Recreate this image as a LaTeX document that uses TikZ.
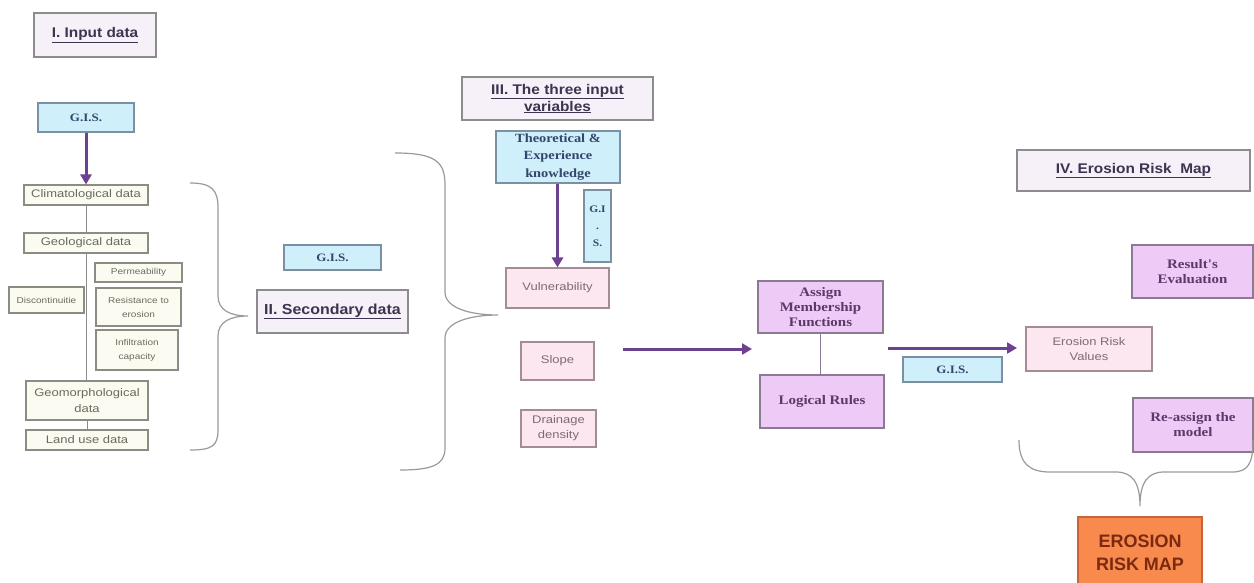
\documentclass[tikz,border=0pt]{standalone}
\usepackage{fontspec}
\setmainfont{Liberation Sans}
\newfontfamily\sansS[FakeStretch=1.18]{Liberation Sans}
\newfontfamily\headF[FakeStretch=1.1]{Liberation Sans}
\newfontfamily\serifB[FakeStretch=1.15]{Liberation Serif}
\usetikzlibrary{arrows.meta}
\definecolor{headfill}{HTML}{F6F0F8}
\definecolor{headdraw}{HTML}{8C8C8C}
\definecolor{headtext}{HTML}{3C3450}
\definecolor{bluefill}{HTML}{CFEFFB}
\definecolor{bluedraw}{HTML}{7C90A4}
\definecolor{bluetext}{HTML}{34466C}
\definecolor{creamfill}{HTML}{FBFBF2}
\definecolor{creamdraw}{HTML}{8C8C82}
\definecolor{creamtext}{HTML}{686C5E}
\definecolor{pinkfill}{HTML}{FCE6EF}
\definecolor{pinkdraw}{HTML}{A48C96}
\definecolor{pinktext}{HTML}{806878}
\definecolor{violetfill}{HTML}{EDCBF6}
\definecolor{violetdraw}{HTML}{8C7A94}
\definecolor{violettext}{HTML}{5A3A6A}
\definecolor{orangefill}{HTML}{F98A4E}
\definecolor{orangedraw}{HTML}{C8643A}
\definecolor{orangetext}{HTML}{7A2A10}
\definecolor{arrowc}{HTML}{6B4190}
\definecolor{linkc}{HTML}{8C8C8C}
\definecolor{bracec}{HTML}{9A9A9A}
\begin{document}
\begin{tikzpicture}[x=1pt,y=-1pt,
  base/.style={line width=1.1pt, align=center, inner sep=1pt},
  head/.style={base, draw=headdraw, fill=headfill, text=headtext,
    font=\headF\fontsize{14}{17}\selectfont\bfseries},
  bluebox/.style={base, draw=bluedraw, fill=bluefill, text=bluetext,
    font=\serifB\fontsize{11.3}{14}\selectfont\bfseries},
  creambox/.style={base, draw=creamdraw, fill=creamfill, text=creamtext,
    font=\sansS\fontsize{11}{16}\selectfont},
  smallbox/.style={base, draw=creamdraw, fill=creamfill, text=creamtext,
    font=\sansS\fontsize{8.5}{14}\selectfont},
  pinkbox/.style={base, draw=pinkdraw, fill=pinkfill, text=pinktext,
    font=\sansS\fontsize{11}{15}\selectfont},
  violetbox/.style={base, draw=violetdraw, fill=violetfill, text=violettext,
    font=\serifB\fontsize{13}{15}\selectfont\bfseries},
  orangebox/.style={base, draw=orangedraw, fill=orangefill, text=orangetext,
    font=\fontsize{18}{23}\selectfont\bfseries},
  arrow/.style={draw=arrowc, line width=3pt, -{Triangle[length=10pt,width=11pt]}},
  link/.style={draw=linkc, line width=1pt},
  brace/.style={draw=bracec, line width=1.2pt}
]
\useasboundingbox[fill=white] (0,0) rectangle (1254,582);

% I. Input data
\node[head, minimum width=122, minimum height=44] (h1) at (95,35) {\underline{I. Input data}};
\node[bluebox, minimum width=96, minimum height=29] (gis1) at (86,117.5) {G.I.S.};
\node[creambox, minimum width=124, minimum height=20] (clim) at (86,195) {Climatological data};
\node[creambox, minimum width=124, minimum height=20] (geol) at (86,243) {Geological data};
\node[smallbox, minimum width=87, minimum height=19] (perm) at (138.5,272.5) {Permeability};
\node[smallbox, minimum width=85, minimum height=38] (resist) at (138.5,307) {Resistance to\\erosion};
\node[smallbox, minimum width=75, minimum height=26] (disc) at (46.5,300) {Discontinuitie};
\node[smallbox, minimum width=82, minimum height=40] (infil) at (137,350) {Infiltration\\capacity};
\node[creambox, minimum width=122, minimum height=39] (geom) at (87,400.5) {Geomorphological\\data};
\node[creambox, minimum width=122, minimum height=20] (land) at (87,440) {Land use data};

\draw[arrow] (gis1.south) -- (clim.north);
\draw[link] (clim.south) -- (geol.north);
\draw[link] (geol.south) -- (geol.south |- geom.north);
\draw[link] (geom.south) -- (land.north);

% brace 1
\draw[brace] (190,183) .. controls (212,183) and (218,190) .. (218,208) -- (218,296)
  .. controls (218,310) and (230,316) .. (248,316)
  .. controls (230,316) and (218,322) .. (218,336) -- (218,430)
  .. controls (218,446) and (212,450) .. (190,450);

% II. Secondary data
\node[bluebox, minimum width=97, minimum height=25] (gis2) at (332.5,257.5) {G.I.S.};
\node[head, minimum width=151, minimum height=43, font=\headF\fontsize{14.5}{17}\selectfont\bfseries] (h2) at (332.5,311.5) {\underline{II. Secondary data}};

% brace 2
\draw[brace] (395,153) .. controls (436,153) and (445,162) .. (445,185) -- (445,292)
  .. controls (445,308) and (470,315) .. (498,315)
  .. controls (470,315) and (445,322) .. (445,338) -- (445,448)
  .. controls (445,465) and (432,470) .. (400,470);

% III. The three input variables
\node[head, minimum width=191, minimum height=43] (h3) at (557.5,98.5) {\underline{III. The three input}\\\underline{variables}};
\node[bluebox, minimum width=124, minimum height=52, inner sep=0pt, font=\serifB\fontsize{12.5}{17.5}\selectfont\bfseries] (theo) at (558,157) {Theoretical \&\\Experience\\knowledge};
\node[bluebox, minimum width=27, minimum height=72, font=\serifB\fontsize{10}{17}\selectfont\bfseries] (gis3) at (597.5,226) {G.I\\.\\S.};
\node[pinkbox, minimum width=103, minimum height=40] (vuln) at (557.5,288) {Vulnerability};
\node[pinkbox, minimum width=73, minimum height=38] (slope) at (557.5,361) {Slope};
\node[pinkbox, minimum width=75, minimum height=37] (drain) at (558.5,428.5) {Drainage\\density};
\draw[arrow] (theo.south -| vuln.north) -- (vuln.north);

\coordinate (a3s) at (623,349);
\coordinate (a3e) at (752,349);
\draw[arrow] (a3s) -- (a3e);

% middle
\node[violetbox, minimum width=125, minimum height=52] (assign) at (820.5,307) {Assign\\Membership\\Functions};
\node[violetbox, minimum width=124, minimum height=53] (logic) at (822,401.5) {Logical Rules};
\draw[link, draw=violetdraw] (assign.south) -- (assign.south |- logic.north);

\coordinate (a4s) at (888,348);
\coordinate (a4e) at (1017,348);
\draw[arrow] (a4s) -- (a4e);
\node[bluebox, minimum width=99, minimum height=25] (gis4) at (952.5,369.5) {G.I.S.};

% IV. Erosion Risk Map
\node[head, minimum width=233, minimum height=41] (h4) at (1133.5,170.5) {\underline{IV. Erosion Risk\ \ Map}};
\node[pinkbox, minimum width=126, minimum height=44] (erv) at (1089,349) {Erosion Risk\\Values};
\node[violetbox, minimum width=121, minimum height=53] (result) at (1192.5,271.5) {Result's\\Evaluation};
\node[violetbox, minimum width=120, minimum height=54] (reassign) at (1193,425) {Re-assign the\\model};

% bottom brace
\draw[brace] (1019,440) .. controls (1019,464) and (1030,472) .. (1050,472) -- (1116,472)
  .. controls (1132,472) and (1140,482) .. (1140,506)
  .. controls (1140,482) and (1148,472) .. (1164,472) -- (1232,472)
  .. controls (1248,472) and (1253,464) .. (1253,440);

\node[orangebox, minimum width=124, minimum height=72] (erm) at (1140,553) {EROSION\\RISK MAP};
\end{tikzpicture}
\end{document}
